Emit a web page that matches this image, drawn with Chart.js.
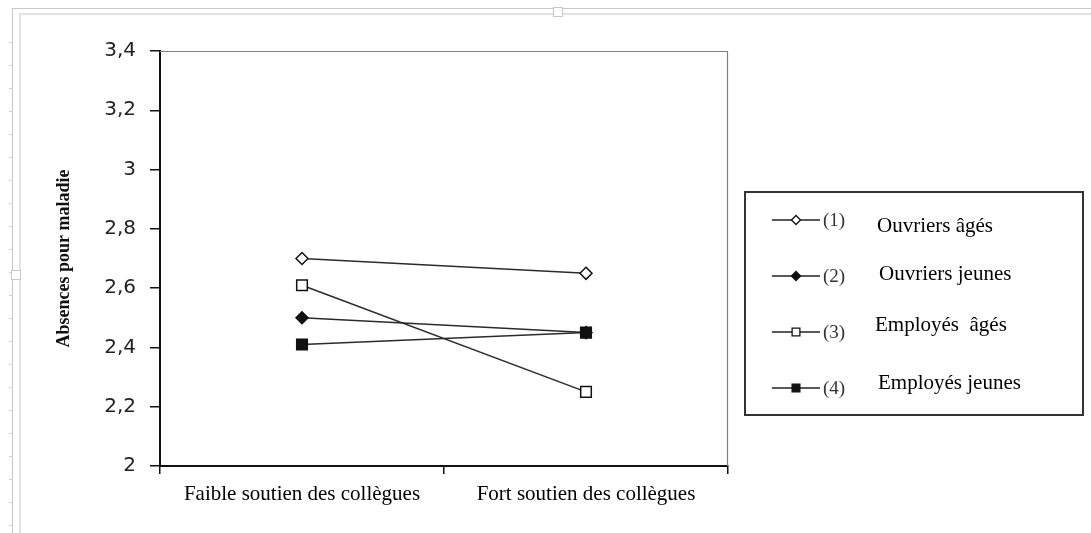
<!DOCTYPE html>
<html>
<head>
<meta charset="utf-8">
<script src="https://cdn.jsdelivr.net/npm/chart.js@4/dist/chart.umd.min.js"></script>
<style>
  body { margin: 0; background: #fff; }
  #wrap { position: relative; width: 1091px; height: 533px; overflow: hidden; }
  .frame-h { position: absolute; left: 12px; right: 0; height: 0; border-top: 1px solid #c8c8c8; }
  .frame-v { position: absolute; top: 8px; bottom: 0; width: 0; border-left: 1px solid #c8c8c8; }
  .handle { position: absolute; width: 8px; height: 8px; border: 1px solid #c8c8c8; background: #fff; }
  .ruler { position: absolute; left: 9px; top: 20px; width: 4px; bottom: 0;
    background: repeating-linear-gradient(to bottom, transparent 0, transparent 22px, #d0d0d0 22px, #d0d0d0 23px); }
  canvas { position: absolute; left: 0; top: 0; }
</style>
</head>
<body>
<div id="wrap">
  <div class="frame-h" style="top:8px"></div>
  <div class="frame-h" style="top:13px;left:20px;border-top:2px solid #e2e2e2"></div>
  <div class="frame-v" style="left:12px"></div>
  <div class="frame-v" style="left:19px;top:13px;border-left:2px solid #e2e2e2"></div>
  <div class="ruler"></div>
  <div class="handle" style="left:553px;top:7px"></div>
  <div class="handle" style="left:11px;top:270px"></div>
  <canvas id="absChart" width="1091" height="533"></canvas>
</div>
<script>
var categories = ["Faible soutien des collègues", "Fort soutien des collègues"];
var seriesCodes = ["(1)", "(2)", "(3)", "(4)"];
var seriesNames = ["Ouvriers âgés", "Ouvriers jeunes", "Employés  âgés", "Employés jeunes"];
var ouvriersAges = [2.70, 2.65];
var ouvriersJeunes = [2.50, 2.45];
var employesAges = [2.61, 2.25];
var employesJeunes = [2.41, 2.45];
var yTicks = [2, 2.2, 2.4, 2.6, 2.8, 3, 3.2, 3.4];

function serie(label, data, shape, fill, radius) {
  return {
    label: label,
    data: data,
    borderColor: "#2b2b2b",
    borderWidth: 1.5,
    pointStyle: shape,
    pointRadius: radius,
    pointBackgroundColor: fill,
    pointBorderColor: "#111",
    pointBorderWidth: 1.5,
    fill: false,
    tension: 0,
  };
}

// gray top/right border of the plot area
var plotBox = {
  id: "plotBox",
  afterDraw: function (chart) {
    var a = chart.chartArea, c = chart.ctx;
    c.save();
    c.strokeStyle = "#808080";
    c.lineWidth = 1.2;
    c.beginPath();
    c.moveTo(a.left, a.top + 0.5);
    c.lineTo(a.right - 0.5, a.top + 0.5);
    c.lineTo(a.right - 0.5, a.bottom);
    c.stroke();
    c.restore();
  },
};

// boxed legend at the right
var boxLegend = {
  id: "boxLegend",
  afterDraw: function (chart) {
    var c = chart.ctx;
    var rowY = [220, 276, 332, 388];
    var textY = [226, 274, 325, 383];
    var textX = [877, 879, 875, 878];
    c.save();
    c.strokeStyle = "#333";
    c.lineWidth = 2;
    c.strokeRect(745, 192, 338, 223);
    chart.data.datasets.forEach(function (ds, i) {
      var y = rowY[i];
      c.strokeStyle = "#222";
      c.lineWidth = 1.5;
      c.beginPath();
      c.moveTo(772, y);
      c.lineTo(820, y);
      c.stroke();
      c.fillStyle = ds.pointBackgroundColor;
      c.strokeStyle = "#111";
      c.lineWidth = 1.3;
      Chart.helpers.drawPoint(c, {
        pointStyle: ds.pointStyle,
        radius: ds.pointStyle === "rect" ? 5.5 : 4.5,
        borderWidth: 1.3,
      }, 796, y);
      c.fillStyle = "#333";
      c.textBaseline = "middle";
      c.font = "19px 'Liberation Serif'";
      c.fillText(seriesCodes[i], 823, y + 1);
      c.fillStyle = "#000";
      c.font = "21px 'Liberation Serif'";
      c.fillText(seriesNames[i], textX[i], textY[i]);
    });
    c.restore();
  },
};

var ctx = document.getElementById("absChart").getContext("2d");
new Chart(ctx, {
  type: "line",
  data: {
    labels: categories,
    datasets: [
      serie(seriesNames[0], ouvriersAges, "rectRot", "#fff", 6),
      serie(seriesNames[1], ouvriersJeunes, "rectRot", "#111", 6),
      serie(seriesNames[2], employesAges, "rect", "#fff", 7.5),
      serie(seriesNames[3], employesJeunes, "rect", "#111", 7.5),
    ],
  },
  options: {
    responsive: false,
    animation: false,
    layout: { padding: { left: 0, top: 51, right: 363, bottom: 0 } },
    plugins: { legend: { display: false }, tooltip: { enabled: false } },
    scales: {
      x: {
        offset: true,
        grid: { offset: true, drawOnChartArea: false, tickLength: 8, color: "#111", lineWidth: 1.5 },
        border: { color: "#111", width: 2 },
        ticks: { color: "#000", padding: 8, font: { family: "'Liberation Serif'", size: 21 } },
        afterFit: function (s) { s.height = 67; },
      },
      y: {
        min: 2,
        max: 3.4,
        afterBuildTicks: function (s) { s.ticks = yTicks.map(function (v) { return { value: v }; }); },
        grid: { drawOnChartArea: false, tickLength: 10, color: "#111", lineWidth: 1.5 },
        border: { color: "#111", width: 2 },
        ticks: {
          color: "#222",
          padding: 14,
          font: { family: "'DejaVu Sans'", size: 20 },
          callback: function (v) { return String(Number(v.toFixed(1))).replace(".", ","); },
        },
        title: {
          display: true,
          text: "Absences pour maladie",
          color: "#111",
          padding: { top: 54, bottom: 0 },
          font: { family: "'Liberation Serif'", size: 18, weight: "bold" },
        },
        afterFit: function (s) { s.width = 160; },
      },
    },
  },
  plugins: [plotBox, boxLegend],
});
</script>
</body>
</html>
